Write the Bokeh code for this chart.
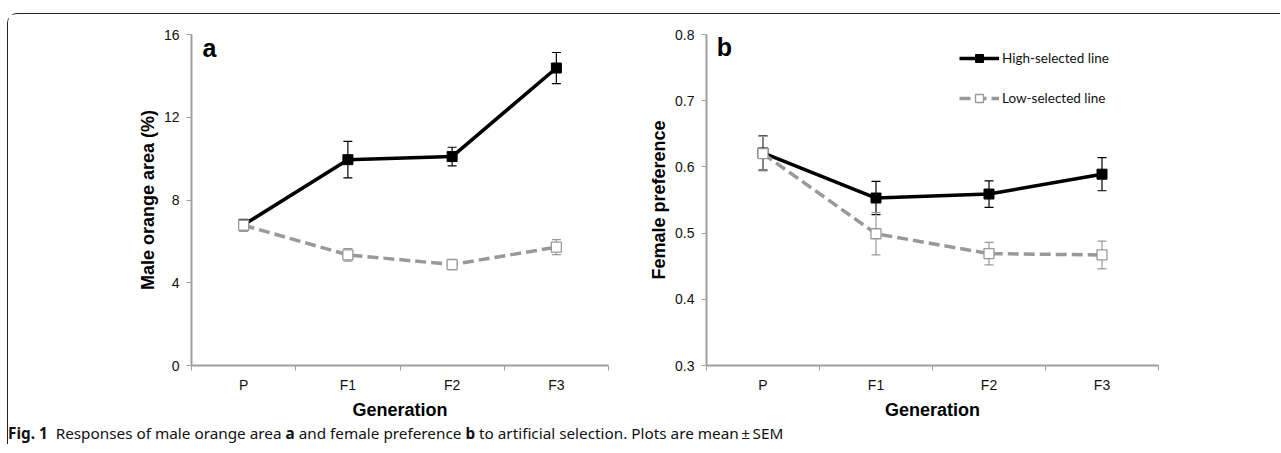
from bokeh.plotting import figure
from bokeh.models import (Range1d, FixedTicker, Whisker, TeeHead, ColumnDataSource,
                          Label, Legend, LegendItem, Div)
from bokeh.layouts import row, column
from bokeh.embed import file_html
from bokeh.resources import INLINE

# ---------------- data ----------------
generations = ["P", "F1", "F2", "F3"]

orange_high = [6.8, 9.95, 10.1, 14.38]
orange_high_sem = [0.25, 0.88, 0.45, 0.75]
orange_low = [6.78, 5.35, 4.88, 5.72]
orange_low_sem = [0.3, 0.3, 0.25, 0.36]

pref_high = [0.621, 0.553, 0.559, 0.589]
pref_high_sem = [0.026, 0.025, 0.020, 0.025]
pref_low = [0.620, 0.499, 0.469, 0.467]
pref_low_sem = [0.026, 0.032, 0.017, 0.021]

orange_ticks = [0, 4, 8, 12, 16]
pref_ticks = [0.3, 0.4, 0.5, 0.6, 0.7, 0.8]

series_names = ["High-selected line", "Low-selected line"]

BLACK = "#000000"
GRAY = "#999999"
AXIS = "#a0a0a0"
TICKFONT = "Liberation Sans"


def make_panel(letter, letter_pos, ylabel, yrange, yticks, high, high_sem, low, low_sem,
               width, bl, br, legend=False, fmt=None):
    p = figure(width=width, height=408, output_backend="svg", toolbar_location=None,
               x_range=Range1d(0, len(generations)), y_range=Range1d(*yrange),
               min_border_left=bl, min_border_right=br, min_border_top=20,
               min_border_bottom=57)
    p.outline_line_color = None
    p.grid.visible = False

    xs = [i + 0.5 for i in range(len(generations))]
    p.xaxis.ticker = FixedTicker(ticks=xs, minor_ticks=list(range(len(generations) + 1)))
    p.xaxis.major_label_overrides = {x: g for x, g in zip(xs, generations)}
    p.xaxis.major_tick_out = 0
    p.xaxis.major_tick_in = 0
    p.xaxis.minor_tick_out = 5
    p.xaxis.minor_tick_in = 0
    p.xaxis.major_label_standoff = 6
    p.xaxis.axis_label = "Generation"
    p.xaxis.axis_label_standoff = 4

    p.yaxis.ticker = FixedTicker(ticks=yticks)
    if fmt:
        p.yaxis.major_label_overrides = {t: fmt.format(t) for t in yticks}
    p.yaxis.major_tick_out = 5
    p.yaxis.major_tick_in = 0
    p.yaxis.minor_tick_out = 0
    p.yaxis.minor_tick_in = 0
    p.yaxis.major_label_standoff = 7
    p.yaxis.axis_label = ylabel
    p.yaxis.axis_label_standoff = 3

    for ax in (p.xaxis, p.yaxis):
        ax.axis_line_color = AXIS
        ax.axis_line_width = 2
        ax.major_tick_line_color = AXIS
        ax.minor_tick_line_color = AXIS
        ax.major_tick_line_width = 1
        ax.minor_tick_line_width = 1
        ax.major_label_text_font = TICKFONT
        ax.major_label_text_font_size = "14px"
        ax.major_label_text_color = "#111111"
        ax.axis_label_text_font = TICKFONT
        ax.axis_label_text_font_style = "bold"
        ax.axis_label_text_font_size = "18px"
        ax.axis_label_text_color = "#000000"

    src_h = ColumnDataSource(dict(x=xs, y=high,
                                  up=[m + s for m, s in zip(high, high_sem)],
                                  lo=[m - s for m, s in zip(high, high_sem)]))
    src_l = ColumnDataSource(dict(x=xs, y=low,
                                  up=[m + s for m, s in zip(low, low_sem)],
                                  lo=[m - s for m, s in zip(low, low_sem)]))

    wh = Whisker(source=src_h, base="x", upper="up", lower="lo",
                 line_color=BLACK, line_width=1.2,
                 upper_head=TeeHead(size=9, line_color=BLACK, line_width=1.2),
                 lower_head=TeeHead(size=9, line_color=BLACK, line_width=1.2))
    p.add_layout(wh)
    lh = p.line("x", "y", source=src_h, line_color=BLACK, line_width=3.5)
    sh = p.scatter("x", "y", source=src_h, marker="square", size=10,
                   fill_color=BLACK, line_color=BLACK)

    wl = Whisker(source=src_l, base="x", upper="up", lower="lo",
                 line_color=GRAY, line_width=1.2,
                 upper_head=TeeHead(size=9, line_color=GRAY, line_width=1.2),
                 lower_head=TeeHead(size=9, line_color=GRAY, line_width=1.2))
    p.add_layout(wl)
    ll = p.line("x", "y", source=src_l, line_color=GRAY, line_width=3.5,
                line_dash="11 5")
    sl = p.scatter("x", "y", source=src_l, marker="square", size=10,
                   fill_color="white", line_color=GRAY, line_width=1.3)

    p.add_layout(Label(x=letter_pos[0], y=letter_pos[1],
                       text=letter, text_font=TICKFONT, text_font_style="bold",
                       text_font_size="25px", text_color="#000000",
                       text_baseline="alphabetic"))

    if legend:
        leg = Legend(items=[LegendItem(label=series_names[0], renderers=[lh, sh]),
                            LegendItem(label=series_names[1], renderers=[ll, sl])],
                     location=(253, 257), padding=0, margin=0, spacing=20,
                     glyph_width=40, glyph_height=20, label_standoff=3,
                     label_text_font="Lato", label_text_font_size="13.5px",
                     label_text_color="#111111",
                     background_fill_alpha=0, border_line_color=None)
        p.add_layout(leg)
    return p


pa = make_panel("a", (0.105, 15.37), "Male orange area (%)", (0, 16), orange_ticks,
                orange_high, orange_high_sem, orange_low, orange_low_sem,
                width=636, bl=183, br=36)
pb = make_panel("b", (0.09, 0.7806), "Female preference", (0.3, 0.8), pref_ticks,
                pref_high, pref_high_sem, pref_low, pref_low_sem,
                width=615, bl=62, br=101, legend=True, fmt="{:.1f}")

caption = Div(text="<b>Fig. 1</b>&nbsp; Responses of male orange area <b>a</b> and "
                   "female preference <b>b</b> to artificial selection. Plots are mean\u2009\u00b1\u2009SEM",
              width=1272, height=22,
              styles={"font-family": "'Noto Sans', sans-serif",
                      "font-size": "15.3px", "line-height": "16px",
                      "padding-top": "3px", "margin": "0px", "color": "#111111"})

layout = column(row(pa, pb), caption,
                styles={"border-top": "1.5px solid #222", "border-left": "1.5px solid #222",
                        "border-top-left-radius": "10px", "margin-top": "13px",
                        "margin-left": "7px"})

open("out.html", "w").write(file_html(layout, INLINE))
